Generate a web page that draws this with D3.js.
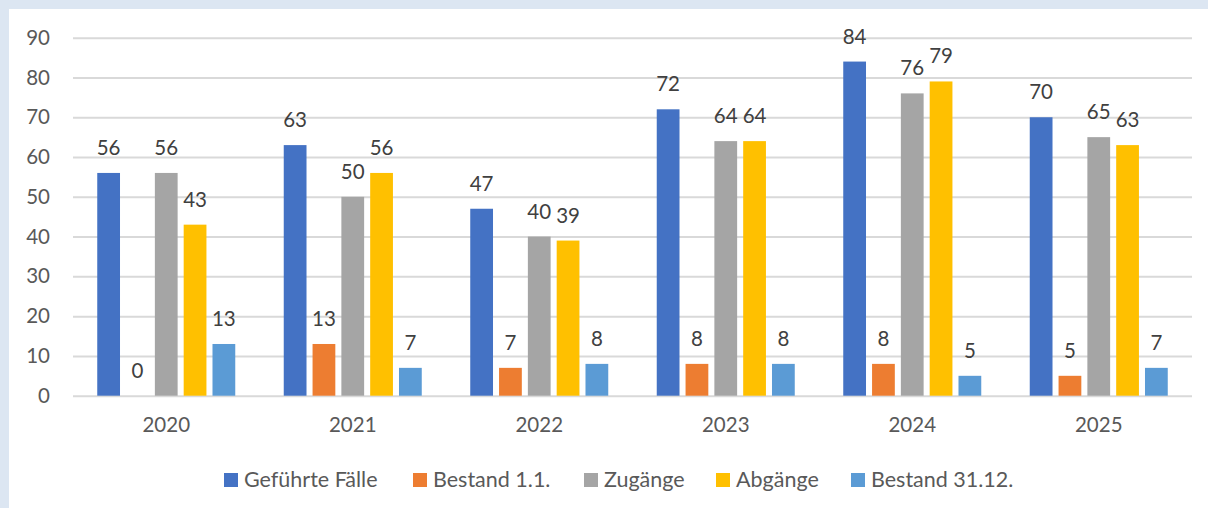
<!DOCTYPE html>
<html><head><meta charset="utf-8">
<script src="https://cdn.jsdelivr.net/npm/d3@7"></script>
<style>
html,body{margin:0;padding:0;background:#dce6f2;}
svg{display:block;}
</style></head>
<body>
<svg id="c" width="1208" height="508"></svg>
<script>
const years = ["2020","2021","2022","2023","2024","2025"];
const seriesNames = ["Geführte Fälle","Bestand 1.1.","Zugänge","Abgänge","Bestand 31.12."];
const gefuehrteFaelle = [56,63,47,72,84,70];
const bestand11 = [0,13,7,8,8,5];
const zugaenge = [56,50,40,64,76,65];
const abgaenge = [43,56,39,64,79,63];
const bestand3112 = [13,7,8,8,5,7];
const yTicks = [0,10,20,30,40,50,60,70,80,90];
const colors = ["#4472C4","#ED7D31","#A5A5A5","#FFC000","#5B9BD5"];

const seriesValues = [gefuehrteFaelle,bestand11,zugaenge,abgaenge,bestand3112];
const font = "Lato, 'Open Sans', sans-serif";
const svg = d3.select("#c");
svg.append("rect").attr("x",9).attr("y",9).attr("width",1199).attr("height",499).attr("fill","#ffffff");

const x0 = d3.scaleBand().domain(years).range([73,1192]).paddingInner(0).paddingOuter(0);
const bw = x0.bandwidth();
const x1 = d3.scaleBand().domain(seriesNames).range([bw*0.13, bw*0.87]).paddingInner(0.21).paddingOuter(0);
const y = d3.scaleLinear().domain([0,90]).range([395.7,37.7]);

// gridlines
const yAxis = d3.axisLeft(y).tickValues(yTicks).tickSize(-(1192-73)).tickPadding(23);
const gy = svg.append("g").attr("transform","translate(73,0)").call(yAxis);
gy.select(".domain").remove();
gy.selectAll(".tick line").attr("stroke","#d9d9d9").attr("stroke-width",2);
gy.selectAll(".tick text").attr("fill","#595959").attr("font-family",font).attr("font-size",20.5);

// bars
const groups = svg.append("g").selectAll("g").data(years).join("g")
  .attr("transform",d=>`translate(${x0(d)},0)`);
seriesNames.forEach((s,si)=>{
  groups.append("rect")
    .attr("x",x1(s)).attr("width",x1.bandwidth())
    .attr("y",(d,i)=>y(seriesValues[si][i]))
    .attr("height",(d,i)=>y(0)-y(seriesValues[si][i]))
    .attr("fill",colors[si]);
  groups.append("text")
    .attr("x",x1(s)+x1.bandwidth()/2)
    .attr("y",(d,i)=>y(seriesValues[si][i])-18)
    .attr("text-anchor","middle")
    .attr("fill","#404040").attr("font-family",font).attr("font-size",20.5)
    .text((d,i)=>seriesValues[si][i]);
});

// x axis labels
const xAxis = d3.axisBottom(x0).tickSize(0).tickPadding(22);
const gx = svg.append("g").attr("transform",`translate(0,${y(0)})`).call(xAxis);
gx.select(".domain").remove();
gx.selectAll(".tick text").attr("fill","#595959").attr("font-family",font).attr("font-size",20.5);

// legend
const legX = [224,413,584,716,851];
const leg = svg.append("g");
seriesNames.forEach((s,i)=>{
  leg.append("rect").attr("x",legX[i]).attr("y",473).attr("width",14).attr("height",14).attr("fill",colors[i]);
  leg.append("text").attr("x",legX[i]+20).attr("y",487).attr("fill","#595959")
    .attr("font-family",font).attr("font-size",21.5).text(s);
});
</script>
</body></html>
